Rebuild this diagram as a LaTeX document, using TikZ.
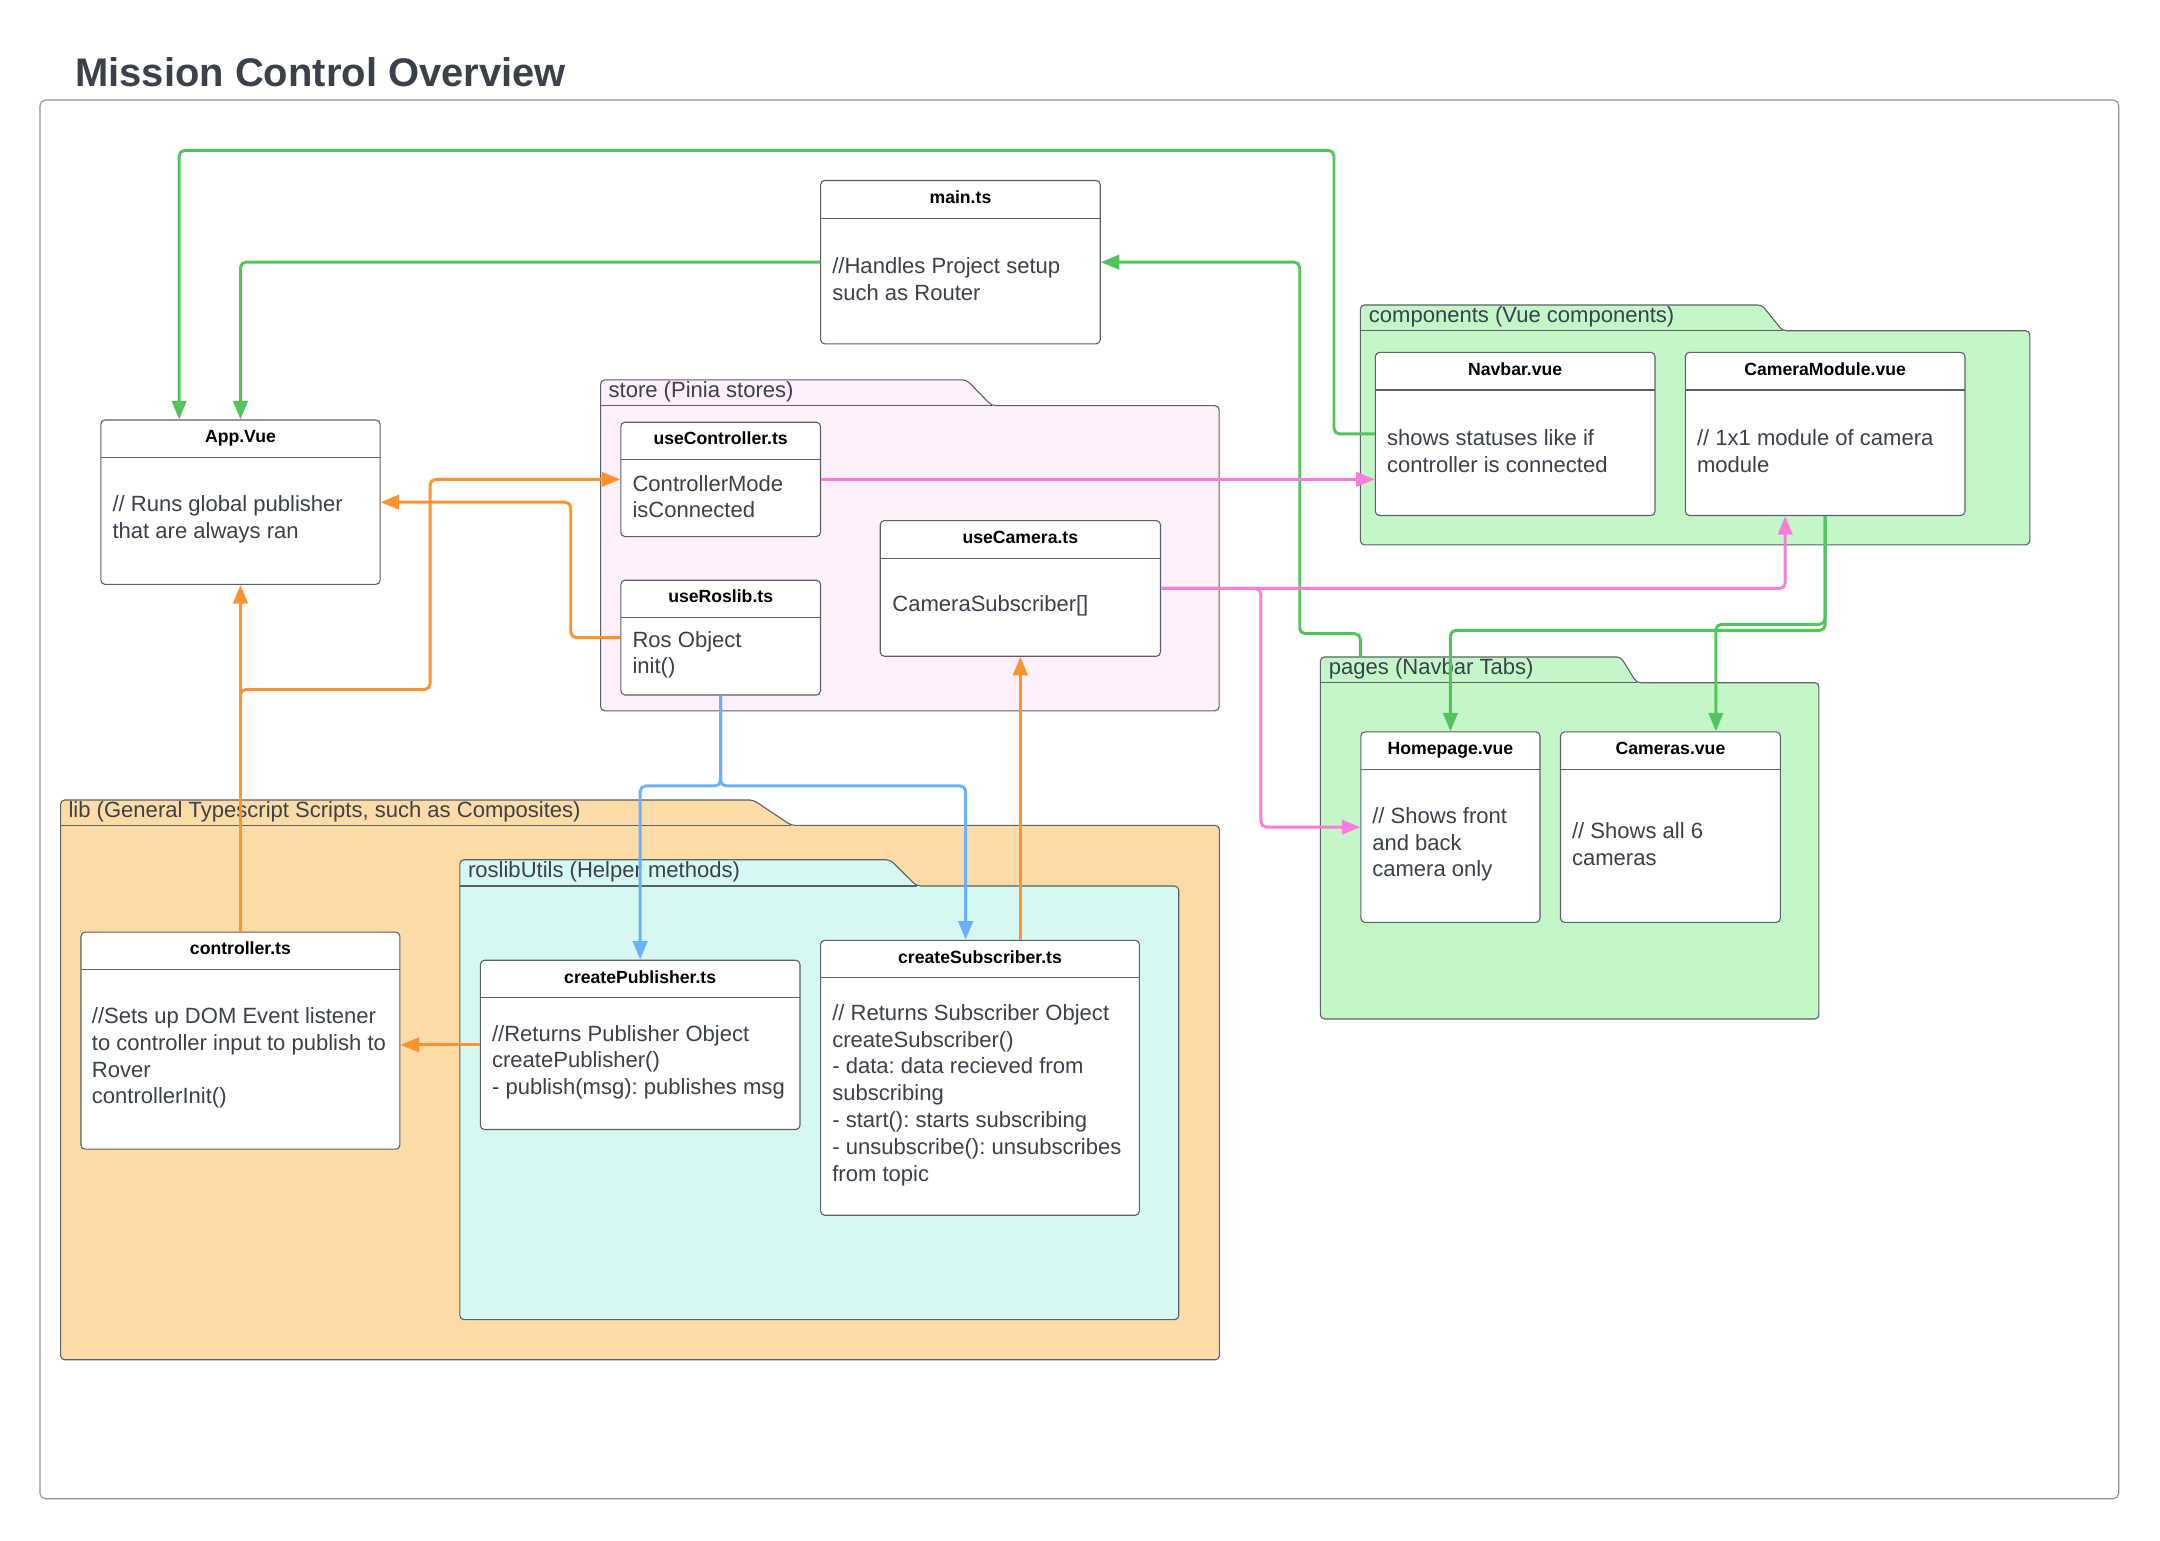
\documentclass[tikz,border=0pt]{standalone}
\usepackage{fontspec}
\setmainfont{Liberation Sans}
\frenchspacing
\usepackage{tikz}
\usetikzlibrary{positioning, arrows.meta}
\definecolor{txtgray}{HTML}{3A414A}
\definecolor{boxgray}{HTML}{5C6067}
\definecolor{framegray}{HTML}{8E9197}
\definecolor{greenln}{HTML}{52C45C}
\definecolor{pinkln}{HTML}{FA7DDC}
\definecolor{orangeln}{HTML}{FB9430}
\definecolor{blueln}{HTML}{6BB0FF}
\definecolor{storefill}{HTML}{FEEFFA}
\definecolor{vuefill}{HTML}{C3F7C8}
\definecolor{libfill}{HTML}{FDDBA6}
\definecolor{utilfill}{HTML}{D6F8F2}
\tikzset{>={Triangle[length=13.5pt, width=10.5pt]},
         cls/.style={draw=boxgray, fill=white, line width=0.8pt, rounded corners=3pt,
                     anchor=north west, inner sep=0pt,
                     path picture={\draw[boxgray, line width=0.8pt]
                       ([yshift=-27.3pt]path picture bounding box.north west) --
                       ([yshift=-27.3pt]path picture bounding box.north east);}},
         hdr/.style={font=\bfseries\fontsize{12.8}{15}\selectfont, text=black,
                     inner sep=0pt, text height=9.2pt, text depth=0pt},
         txt/.style={font=\fontsize{16}{19.45}\selectfont, text=txtgray, align=left, inner sep=0pt},
         pkg/.style={draw=boxgray, line width=0.8pt, rounded corners=3pt},
         pkglbl/.style={font=\fontsize{16}{19.45}\selectfont, text=txtgray, anchor=west, inner sep=0pt},
         wire/.style={->, line width=2.1pt, rounded corners=4pt},
         gwire/.style={wire, draw=greenln},
         pwire/.style={wire, draw=pinkln},
         owire/.style={wire, draw=orangeln},
         bwire/.style={wire, draw=blueln},
         }

\begin{document}
\begin{tikzpicture}[x=1pt, y=-1pt]
    \useasboundingbox (0,0) rectangle (1568,1118);
    \node[anchor=base west, inner sep=0pt, text=txtgray, font=\bfseries\fontsize{29}{34}\selectfont] (title) at (54.5,63) {Mission Control Overview};
    \draw[draw=framegray, line width=0.8pt, rounded corners=4pt] (29,72.6) rectangle (1538,1088);

    \draw[pkg, fill=libfill] (44,987.1) -- (44,580.7) -- (546.8,580.7) -- (574.5,599.2) -- (885.2,599.2) -- (885.2,987.1) -- cycle;
    \draw[pkg] (44,599.2) -- (574.5,599.2);
    \node[pkglbl] (lib-l) at (49.6,589.5) {lib (General Typescript Scripts, such as Composites)};
    \draw[pkg, fill=utilfill] (333.8,957.9) -- (333.8,624.1) -- (646.2,624.1) -- (665.4,643.2) -- (855.7,643.2) -- (855.7,957.9) -- cycle;
    \draw[pkg] (333.8,643.2) -- (665.4,643.2);
    \node[pkglbl] (util-l) at (339.6,633.2) {roslibUtils (Helper methods)};
    \draw[pkg, fill=storefill] (436,516) -- (436,275.8) -- (701.7,275.8) -- (719.9,294.5) -- (885,294.5) -- (885,516) -- cycle;
    \draw[pkg] (436,294.5) -- (719.9,294.5);
    \node[pkglbl] (store-l) at (441.6,284.6) {store (Pinia stores)};
    \draw[pkg, fill=vuefill] (987.5,395.5) -- (987.5,221.4) -- (1279,221.4) -- (1294,240.1) -- (1473.5,240.1) -- (1473.5,395.5) -- cycle;
    \draw[pkg] (987.5,240.1) -- (1294,240.1);
    \node[pkglbl] (comp-l) at (993.5,230.2) {components (Vue components)};
    \draw[pkg, fill=vuefill] (958.5,739.7) -- (958.5,476.9) -- (1176.5,476.9) -- (1188,495.6) -- (1320.4,495.6) -- (1320.4,739.7) -- cycle;
    \draw[pkg] (958.5,495.6) -- (1188,495.6);
    \node[pkglbl] (pages-l) at (964.5,485.7) {pages (Navbar Tabs)};

    \node[cls, minimum width=203pt, minimum height=118.6pt] (maints) at (595.3,130.6) {};
    \node[hdr, below=7.5pt of maints.north] (maints-h) {main.ts};
    \node[txt, right=8.7pt of maints.west, yshift=-12.5pt] (maints-b) {//Handles Project setup\\such as Router};

    \node[cls, minimum width=202.7pt, minimum height=119.3pt] (app) at (72.8,304.5) {};
    \node[hdr, below=7.5pt of app.north] (app-h) {App.Vue};
    \node[txt, right=8.7pt of app.west, yshift=-12.5pt] (app-b) {// Runs global publisher\\that are always ran};

    \node[cls, minimum width=144.9pt, minimum height=83pt] (usectrl) at (450.3,306.1) {};
    \node[hdr, below=7.5pt of usectrl.north] (usectrl-h) {useController.ts};
    \node[txt, right=8.7pt of usectrl.west, yshift=-12.5pt] (usectrl-b) {ControllerMode\\isConnected};

    \node[cls, minimum width=144.9pt, minimum height=83.3pt] (useros) at (450.3,420.8) {};
    \node[hdr, below=7.5pt of useros.north] (useros-h) {useRoslib.ts};
    \node[txt, right=8.7pt of useros.west, yshift=-12.5pt] (useros-b) {Ros Object\\init()};

    \node[cls, minimum width=203.4pt, minimum height=98.5pt] (usecam) at (638.6,377.5) {};
    \node[hdr, below=7.5pt of usecam.north] (usecam-h) {useCamera.ts};
    \node[txt, right=9pt of usecam.west, yshift=-12.5pt] (usecam-b) {CameraSubscriber[]};

    \node[cls, minimum width=203pt, minimum height=118.4pt] (navbar) at (998,255.4) {};
    \node[hdr, below=7.5pt of navbar.north] (navbar-h) {Navbar.vue};
    \node[txt, right=8.7pt of navbar.west, yshift=-12.5pt] (navbar-b) {shows statuses like if\\controller is connected};

    \node[cls, minimum width=203pt, minimum height=118.4pt] (cammod) at (1223,255.4) {};
    \node[hdr, below=7.5pt of cammod.north] (cammod-h) {CameraModule.vue};
    \node[txt, right=8.7pt of cammod.west, yshift=-12.5pt] (cammod-b) {// 1x1 module of camera\\module};

    \node[cls, minimum width=130pt, minimum height=138.3pt] (home) at (987.5,530.9) {};
    \node[hdr, below=7.5pt of home.north] (home-h) {Homepage.vue};
    \node[txt, right=8.5pt of home.west, yshift=-12.5pt] (home-b) {// Shows front\\and back\\camera only};

    \node[cls, minimum width=159.6pt, minimum height=138.3pt] (cams) at (1132.4,530.9) {};
    \node[hdr, below=7.5pt of cams.north] (cams-h) {Cameras.vue};
    \node[txt, right=8.6pt of cams.west, yshift=-12.5pt] (cams-b) {// Shows all 6\\cameras};

    \node[cls, minimum width=231.5pt, minimum height=157.5pt] (ctrl) at (58.4,676.3) {};
    \node[hdr, below=7.5pt of ctrl.north] (ctrl-h) {controller.ts};
    \node[txt, right=8.1pt of ctrl.west, yshift=-12.5pt] (ctrl-b) {//Sets up DOM Event listener\\to controller input to publish to\\Rover\\controllerInit()};

    \node[cls, minimum width=232pt, minimum height=122.8pt] (cpub) at (348.3,696.7) {};
    \node[hdr, below=7.5pt of cpub.north] (cpub-h) {createPublisher.ts};
    \node[txt, right=8.7pt of cpub.west, yshift=-12.5pt] (cpub-b) {//Returns Publisher Object\\createPublisher()\\- publish(msg): publishes msg};

    \node[cls, minimum width=231.4pt, minimum height=199.6pt] (csub) at (595.3,682.2) {};
    \node[hdr, below=7.5pt of csub.north] (csub-h) {createSubscriber.ts};
    \node[txt, right=8.7pt of csub.west, yshift=-12.5pt] (csub-b) {// Returns Subscriber Object\\createSubscriber()\\- data: data recieved from\\subscribing\\- start(): starts subscribing\\- unsubscribe(): unsubscribes\\from topic};

    \coordinate (pagestab) at (987.5,476.9);

    \draw[gwire] (navbar.west) -| (968.4,109.2) -| ([xshift=-44.5pt]app.north);
    \draw[gwire] (maints.west) -| (app.north);
    \draw[gwire] (pagestab) |- (943.5,460) |- (maints.east);
    \draw[gwire] (cammod.south) -- ++(0,83) -| (home.north);
    \draw[gwire] (cammod.south) -- ++(0,78.6) -| ([xshift=33pt]cams.north);

    \draw[pwire] (usectrl.east) -- (navbar.west |- usectrl.east);
    \draw[pwire] (usecam.east) -| ([xshift=-29pt]cammod.south);
    \draw[pwire] (usecam.east) -- ++(72.5,0) |- (home.west);

    \draw[owire] (useros.west) -- ++(-36,0) |- (app.east);
    \draw[owire] (ctrl.north) -- (app.south);
    \draw[owire] (ctrl.north) |- (312.2,500.5) |- (usectrl.west);
    \draw[owire] (csub.north -| usecam.south) -- (usecam.south);
    \draw[owire] (cpub.west) -- (ctrl.east |- cpub.west);

    \draw[bwire] (useros.south) -- ++(0,65.6) -| (cpub.north);
    \draw[bwire] (useros.south) -- ++(0,65.6) -| ([xshift=-10.4pt]csub.north);
\end{tikzpicture}
\end{document}
